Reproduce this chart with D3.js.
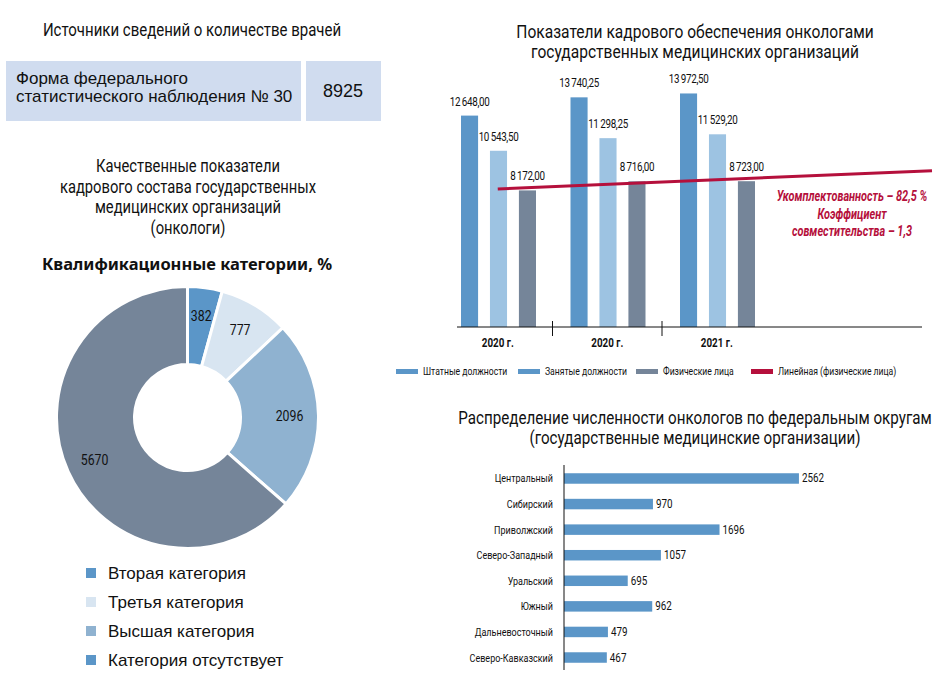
<!DOCTYPE html>
<html><head><meta charset="utf-8">
<script src="https://cdn.jsdelivr.net/npm/d3@7"></script>
<style>
html,body{margin:0;padding:0;background:#fff;}
svg{display:block;}
.cond{font-family:Roboto,"Noto Sans",sans-serif;}
.reg{font-family:"Liberation Sans","Noto Sans",sans-serif;}
</style></head>
<body>
<svg id="c" width="938" height="693"></svg>
<script>
// ---------- data ----------
const sourceLabel = ["Форма федерального", "статистического наблюдения № 30"];
const sourceValue = 8925;

const qualCategories = ["Вторая категория", "Третья категория", "Высшая категория", "Категория отсутствует"];
const qualValues = [382, 777, 2096, 5670];
const qualSliceColors = ["#5b96c8", "#d8e5f1", "#8fb2d0", "#758599"];
const qualLegendColors = ["#5b96c8", "#d8e5f1", "#8fb2d0", "#5b96c8"];

const years = ["2020 г.", "2020 г. ", "2021 г."];
const seriesNames = ["Штатные должности", "Занятые должности", "Физические лица"];
const shtatnye = [12648.00, 13740.25, 13972.50];
const zanyatye = [10543.50, 11298.25, 11529.20];
const fizicheskie = [8172.00, 8716.00, 8723.00];
const barColors = ["#5b96c8", "#9dc3e2", "#758599"];
const legendColors = ["#5b96c8", "#5b96c8", "#758599", "#b5103c"];
const trendName = "Линейная (физические лица)";
const annotation = ["Укомплектованность – 82,5 %", "Коэффициент", "совместительства – 1,3"];

const districts = ["Центральный", "Сибирский", "Приволжский", "Северо-Западный", "Уральский", "Южный", "Дальневосточный", "Северо-Кавказский"];
const districtValues = [2562, 970, 1696, 1057, 695, 962, 479, 467];

const svg = d3.select("#c");
const SX = 0.82; // horizontal condensation for the narrow typeface
const fmt = v => {
  const parts = v.toFixed(2).split(".");
  return parts[0].replace(/\B(?=(\d{3})+(?!\d))/g, "\u2009") + "," + parts[1];
};
function ctext(parent, x, y, str, size, anchor, sx) {
  return parent.append("text").attr("class","cond")
    .attr("transform",`translate(${x},${y}) scale(${sx||SX},1)`)
    .attr("text-anchor",anchor||"start").attr("font-size",size).attr("fill","#111").text(str);
}

// ---------- top-left: sources ----------
ctext(svg, 192, 36, "Источники сведений о количестве врачей", 18.3, "middle");
svg.append("rect").attr("x",6).attr("y",61).attr("width",295).attr("height",60).attr("fill","#d0dcef");
svg.append("rect").attr("x",306).attr("y",61).attr("width",75).attr("height",60).attr("fill","#d0dcef");
svg.append("text").attr("class","reg").attr("font-size",17).attr("fill","#111")
  .selectAll("tspan").data(sourceLabel).join("tspan").attr("x",16).attr("y",(d,i)=>84+i*18).text(d=>d);
svg.append("text").attr("class","reg").attr("x",343).attr("y",97).attr("text-anchor","middle")
  .attr("font-size",18).attr("fill","#111").text(sourceValue);

// ---------- donut ----------
const dTitle = ["Качественные показатели","кадрового состава государственных","медицинских организаций","(онкологи)"];
dTitle.forEach((t,i)=>ctext(svg, 188, 172+i*20.5, t, 18, "middle"));
svg.append("text").attr("font-family","'Noto Sans',sans-serif").attr("font-weight","bold")
  .attr("x",187).attr("y",270).attr("text-anchor","middle").attr("font-size",16.5).attr("fill","#111")
  .text("Квалификационные категории, %");

const pie = d3.pie().sort(null).value(d=>d)(qualValues);
const arc = d3.arc().innerRadius(53).outerRadius(131);
const labelArc = d3.arc().innerRadius(102).outerRadius(102);
const dg = svg.append("g").attr("transform","translate(187.5,417.5)");
dg.selectAll("path").data(pie).join("path").attr("d",arc)
  .attr("fill",(d,i)=>qualSliceColors[i]).attr("stroke","#fff").attr("stroke-width",3);
pie.forEach(d=>{
  const [cx,cy] = labelArc.centroid(d);
  ctext(dg, cx, cy+5, d.data, 15, "middle");
});

const lg = svg.append("g");
qualCategories.forEach((c,i)=>{
  const y = 573 + i*29;
  lg.append("rect").attr("x",86).attr("y",y-5).attr("width",10).attr("height",10).attr("fill",qualLegendColors[i]);
  lg.append("text").attr("class","reg").attr("x",108).attr("y",y).attr("dy","0.35em")
    .attr("font-size",17).attr("fill","#111").text(c);
});

// ---------- top-right grouped bars ----------
ctext(svg, 695, 38, "Показатели кадрового обеспечения онкологами", 19, "middle");
ctext(svg, 695, 58, "государственных медицинских организаций", 19, "middle");

const x0 = d3.scaleBand().domain(years).range([443, 771.5]).paddingInner(0).paddingOuter(0);
const x1 = d3.scaleBand().domain(seriesNames).range([18, 93]).paddingInner(0.41).paddingOuter(0);
const yB = d3.scaleLinear().domain([0, 14000]).range([327, 93]);
const series = [shtatnye, zanyatye, fizicheskie];

const bg = svg.append("g");
years.forEach((yr, gi)=>{
  seriesNames.forEach((s, si)=>{
    const v = series[si][gi];
    const bx = x0(yr) + x1(s);
    bg.append("rect").attr("x",bx).attr("y",yB(v)).attr("width",x1.bandwidth()).attr("height",yB(0)-yB(v))
      .attr("fill",barColors[si]);
    ctext(bg, bx + x1.bandwidth()/2, yB(v)-10, fmt(v), 12, "middle").attr("letter-spacing","-0.4");
  });
});
// axis
bg.append("line").attr("x1",457).attr("x2",922).attr("y1",327).attr("y2",327).attr("stroke","#111").attr("stroke-width",1);
years.slice(1).forEach(yr=>{
  bg.append("line").attr("x1",x0(yr)).attr("x2",x0(yr)).attr("y1",321).attr("y2",336).attr("stroke","#111");
});
years.forEach(yr=>{
  ctext(bg, x0(yr)+x0.bandwidth()/2, 347, yr.trim(), 12, "middle").attr("font-weight","bold");
});
// trend line (linear regression of physical persons)
const n = fizicheskie.length;
const xs = d3.range(1, n+1);
const mx = d3.mean(xs), my = d3.mean(fizicheskie);
const slope = d3.sum(xs.map((x,i)=>(x-mx)*(fizicheskie[i]-my))) / d3.sum(xs.map(x=>(x-mx)*(x-mx)));
const icpt = my - slope*mx;
const idxToX = d3.scaleLinear().domain([1,2]).range([x0(years[0])+x0.bandwidth()/2, x0(years[1])+x0.bandwidth()/2]);
const tEnd = idxToX.invert(932);
bg.append("line").attr("x1",idxToX(1)).attr("y1",yB(icpt+slope*1))
  .attr("x2",idxToX(tEnd)).attr("y2",yB(icpt+slope*tEnd))
  .attr("stroke","#b5103c").attr("stroke-width",3);
annotation.forEach((t,i)=>{
  ctext(svg, 852, 201+i*17.5, t, 14, "middle", 0.78).attr("font-weight","bold")
    .attr("font-style","italic").attr("fill","#b5103c");
});

// legend
const legItems = seriesNames.concat([trendName]);
const legX = [396, 518, 636, 751];
legItems.forEach((t,i)=>{
  svg.append("rect").attr("x",legX[i]).attr("y",369).attr("width",22).attr("height",5).attr("fill",legendColors[i]);
  ctext(svg, legX[i]+27, 375, t, 10.5);
});

// ---------- bottom-right horizontal bars ----------
ctext(svg, 695, 424, "Распределение численности онкологов по федеральным округам", 18.5, "middle");
ctext(svg, 695, 444, "(государственные медицинские организации)", 18.5, "middle");

const yH = d3.scaleBand().domain(districts).range([465.7, 670.3]).paddingInner(0.59).paddingOuter(0.295);
const xH = d3.scaleLinear().domain([0, 3000]).range([564, 839.1]);
const hg = svg.append("g");
hg.selectAll("rect").data(districts).join("rect")
  .attr("x",xH(0)).attr("y",d=>yH(d)).attr("height",yH.bandwidth())
  .attr("width",(d,i)=>xH(districtValues[i])-xH(0)).attr("fill","#5b96c8");
districts.forEach((d,i)=>{
  ctext(hg, xH(districtValues[i])+3, yH(d)+yH.bandwidth()/2+4, districtValues[i], 12);
});
const yAxis = d3.axisLeft(yH).tickSize(0).tickPadding(0);
const ag = svg.append("g").attr("transform",`translate(${xH(0)},0)`).call(yAxis);
ag.select(".domain").attr("stroke","#111").attr("d","M0,465V670");
ag.selectAll(".tick text").attr("font-size",11).attr("fill","#111")
  .attr("font-family","Roboto,'Noto Sans',sans-serif")
  .attr("x",0).attr("dy",null).attr("y",0)
  .attr("transform",`translate(-11,4) scale(${SX},1)`);
</script>
</body></html>
